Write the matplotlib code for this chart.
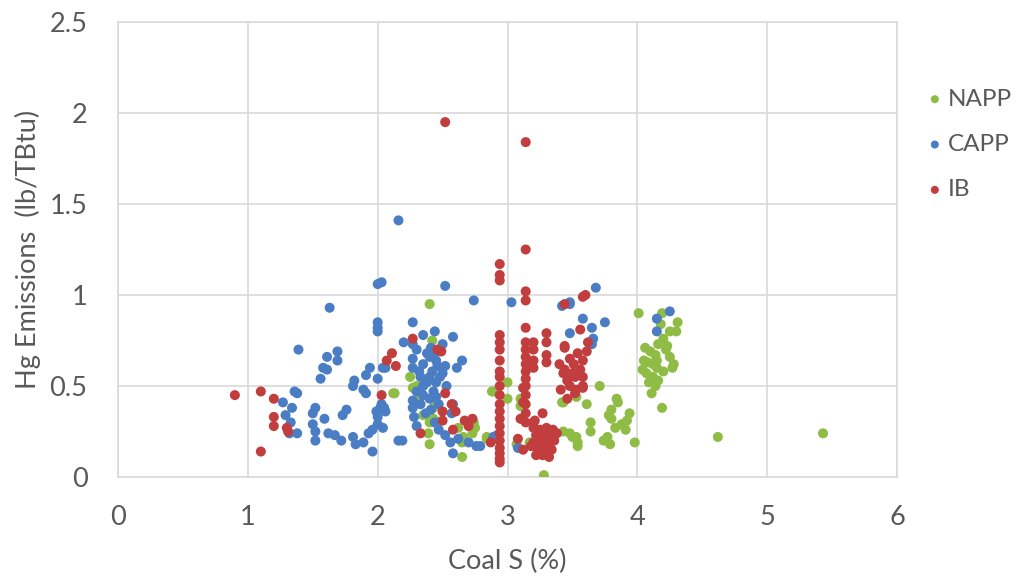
import matplotlib
matplotlib.use("Agg")
import matplotlib.pyplot as plt

# ---------------- data ----------------
ib_pts = [
    (0.90, 0.45), (1.10, 0.47), (1.20, 0.43), (1.20, 0.33), (1.20, 0.28), (1.30, 0.27), (1.31, 0.25),
    (1.10, 0.14), (2.03, 0.45), (2.07, 0.64), (2.11, 0.68), (2.14, 0.61), (2.52, 1.95), (3.14, 1.84),
    (3.14, 1.25), (2.94, 1.17), (2.94, 1.11), (2.94, 1.08), (3.14, 1.02), (3.14, 0.97), (3.60, 1.00),
    (3.44, 0.95), (2.27, 0.76), (2.49, 0.69), (2.46, 0.70),
    (2.94, 0.78), (2.94, 0.74), (2.94, 0.70), (2.94, 0.64), (2.94, 0.58), (2.94, 0.55), (2.94, 0.50),
    (2.94, 0.45), (2.94, 0.40), (2.94, 0.36), (2.94, 0.32), (2.94, 0.28), (2.94, 0.24), (2.94, 0.20),
    (2.94, 0.16), (2.94, 0.13), (2.94, 0.10), (2.94, 0.08),
    (3.14, 0.82), (3.14, 0.74), (3.14, 0.70), (3.14, 0.66), (3.14, 0.62), (3.14, 0.58), (3.14, 0.54),
    (3.14, 0.50), (3.14, 0.45), (3.14, 0.40), (3.14, 0.35), (3.14, 0.30),
    (3.20, 0.74), (3.20, 0.70), (3.20, 0.64), (3.20, 0.60),
    (3.30, 0.79), (3.30, 0.74), (3.30, 0.67), (3.30, 0.63),
    (3.27, 0.35), (3.21, 0.31), (3.12, 0.49), (3.12, 0.41), (3.10, 0.32), (3.20, 0.30), (3.08, 0.21),
    (3.12, 0.15), (2.87, 0.19),
    (3.20, 0.27), (3.25, 0.26), (3.30, 0.27), (3.35, 0.26), (3.22, 0.23), (3.28, 0.22), (3.33, 0.23),
    (3.38, 0.24), (3.20, 0.19), (3.26, 0.18), (3.31, 0.19), (3.36, 0.20), (3.23, 0.15), (3.29, 0.14),
    (3.34, 0.15), (3.27, 0.12), (3.22, 0.12), (3.32, 0.11), (3.18, 0.17), (3.25, 0.21),
    (3.44, 0.72), (3.58, 0.50), (3.44, 0.59), (3.48, 0.65), (3.51, 0.62), (3.58, 0.64), (3.61, 0.69),
    (3.62, 0.74), (3.56, 0.59), (3.52, 0.55), (3.46, 0.53), (3.43, 0.57), (3.48, 0.50), (3.53, 0.48),
    (3.41, 0.48), (3.46, 0.43), (3.52, 0.46), (3.58, 0.49), (3.44, 0.71), (3.40, 0.62), (3.54, 0.68),
    (3.58, 0.55), (3.50, 0.57), (3.58, 0.99), (3.56, 0.81),
    (2.52, 0.46), (2.57, 0.40), (2.50, 0.36), (2.50, 0.31), (2.58, 0.26), (2.33, 0.24), (2.67, 0.31),
    (2.73, 0.32), (2.60, 0.36), (2.70, 0.28),
]
capp_pts = [
    (2.16, 1.41), (2.00, 1.06), (2.03, 1.07), (2.52, 1.05), (2.74, 0.97), (3.03, 0.96), (3.48, 0.96),
    (3.68, 1.04), (4.25, 0.91), (4.15, 0.87), (4.15, 0.80), (3.75, 0.85), (3.58, 0.87), (3.48, 0.79),
    (3.65, 0.82), (3.66, 0.76), (3.65, 0.73), (3.48, 0.95), (3.42, 0.94),
    (1.63, 0.93), (2.00, 0.85), (2.00, 0.82), (2.00, 0.80), (1.39, 0.70), (1.69, 0.69), (1.61, 0.66),
    (1.69, 0.64), (1.58, 0.60), (1.61, 0.59), (1.56, 0.54), (1.94, 0.60), (1.91, 0.56), (2.00, 0.54),
    (2.06, 0.60), (1.82, 0.53), (1.81, 0.50), (1.89, 0.48), (1.91, 0.46), (1.36, 0.47), (1.38, 0.46),
    (1.27, 0.41), (1.34, 0.38), (1.29, 0.34), (1.33, 0.30), (1.32, 0.24), (1.38, 0.24), (1.52, 0.38),
    (1.50, 0.35), (1.59, 0.32), (1.50, 0.29), (1.52, 0.25), (1.52, 0.20), (1.62, 0.24), (1.67, 0.23),
    (1.72, 0.20), (1.76, 0.37), (1.73, 0.34), (1.81, 0.22), (1.83, 0.18), (1.89, 0.19), (1.93, 0.24),
    (1.96, 0.26), (2.00, 0.29), (2.00, 0.33), (1.99, 0.36), (2.03, 0.40), (2.05, 0.38), (1.96, 0.14),
    (2.16, 0.20),
    (2.27, 0.85), (2.44, 0.80), (2.58, 0.77), (2.20, 0.74), (2.27, 0.73), (2.41, 0.71), (2.65, 0.64),
    (2.61, 0.60), (2.04, 0.60), (2.27, 0.65), (2.27, 0.60), (2.35, 0.62), (2.40, 0.66), (2.46, 0.61),
    (2.52, 0.61), (2.33, 0.55), (2.40, 0.55), (2.48, 0.55), (2.53, 0.50), (2.35, 0.50), (2.43, 0.47),
    (2.35, 0.45), (2.27, 0.42), (2.27, 0.38), (2.28, 0.33), (2.41, 0.37), (2.47, 0.40), (2.58, 0.40),
    (2.57, 0.35), (2.47, 0.26), (2.56, 0.19), (2.58, 0.13), (2.70, 0.19), (2.76, 0.17), (2.19, 0.20),
    (2.02, 0.38), (2.06, 0.36), (2.04, 0.27), (2.92, 0.23), (2.89, 0.22), (2.79, 0.17), (3.08, 0.16),
    (2.30, 0.70), (2.38, 0.68), (2.45, 0.64), (2.32, 0.58), (2.42, 0.58), (2.50, 0.57), (2.38, 0.52),
    (2.45, 0.52), (2.30, 0.47), (2.40, 0.43), (2.33, 0.40), (2.45, 0.44), (2.37, 0.35), (2.30, 0.28),
    (2.44, 0.30), (2.52, 0.23), (2.62, 0.21), (2.35, 0.78), (2.50, 0.73), (2.44, 0.68),
]
napp_pts = [
    (2.40, 0.95), (4.01, 0.90), (4.62, 0.22), (5.43, 0.24), (3.28, 0.01), (2.13, 0.46),
    (4.19, 0.90), (4.31, 0.85), (4.25, 0.80), (4.30, 0.80), (4.20, 0.76), (4.16, 0.73), (4.23, 0.72),
    (4.06, 0.71), (4.10, 0.69), (4.14, 0.67), (4.05, 0.64), (4.08, 0.63), (4.15, 0.64), (4.25, 0.66),
    (4.28, 0.62), (4.27, 0.60), (4.04, 0.59), (4.07, 0.57), (4.15, 0.60), (4.12, 0.55), (4.16, 0.53),
    (4.14, 0.50), (4.11, 0.46), (4.19, 0.38), (4.22, 0.70), (4.18, 0.84), (4.12, 0.62), (4.09, 0.52),
    (4.20, 0.58),
    (3.71, 0.50), (3.61, 0.40), (3.84, 0.43), (3.85, 0.41), (3.80, 0.37), (3.78, 0.34), (3.80, 0.32),
    (3.94, 0.35), (3.92, 0.31), (3.88, 0.29), (3.83, 0.27), (3.64, 0.30), (3.64, 0.25), (3.91, 0.26),
    (3.98, 0.19), (3.74, 0.20), (3.79, 0.18), (3.77, 0.22), (3.54, 0.17), (3.53, 0.22), (3.43, 0.25),
    (3.48, 0.24), (3.43, 0.41), (3.53, 0.44), (3.50, 0.22), (3.54, 0.19),
    (2.12, 0.46), (2.30, 0.50), (2.33, 0.44), (2.42, 0.75), (2.40, 0.30), (2.39, 0.24), (2.40, 0.18),
    (2.65, 0.19), (2.65, 0.11), (2.73, 0.24), (2.75, 0.27), (2.84, 0.21), (2.88, 0.47), (3.00, 0.52),
    (3.00, 0.43), (3.10, 0.39), (3.42, 0.41), (2.43, 0.32), (2.44, 0.42), (2.66, 0.22), (2.74, 0.30),
    (2.62, 0.27), (2.46, 0.30), (2.27, 0.49), (2.43, 0.38), (2.89, 0.47), (3.10, 0.43), (2.84, 0.22),
    (2.90, 0.21), (3.07, 0.18), (3.17, 0.19), (2.25, 0.55), (2.35, 0.34),
]
series_names = ["NAPP", "CAPP", "IB"]
x_ticks = [0, 1, 2, 3, 4, 5, 6]
y_ticks = [0, 0.5, 1, 1.5, 2, 2.5]
y_tick_labels = ["0", "0.5", "1", "1.5", "2", "2.5"]
x_label = "Coal S (%)"
y_label = "Hg Emissions  (lb/TBtu)"

# ---------------- plotting ----------------
plt.rcParams['font.family'] = ['Lato', 'DejaVu Sans']
colors = {"NAPP": "#8FBC45", "CAPP": "#4A7DC4", "IB": "#C23D3D"}
txt = "#595959"
grid_c = "#D9D9D9"

fig = plt.figure(figsize=(10.28, 5.77), dpi=100)
ax = fig.add_axes([0.1148, 0.1733, 0.8726 - 0.1148, 0.9619 - 0.1733])

for name, pts in zip(series_names, [napp_pts, capp_pts, ib_pts]):
    xs = [p[0] for p in pts]
    ys = [p[1] for p in pts]
    ax.scatter(xs, ys, s=52, color=colors[name], edgecolors='none', label=name, zorder=3)

ax.set_xlim(0, 6)
ax.set_ylim(0, 2.5)
ax.set_xticks(x_ticks)
ax.set_yticks(y_ticks)
ax.set_yticklabels(y_tick_labels)
ax.grid(True, color=grid_c, linewidth=1.2, zorder=0)
for sp in ax.spines.values():
    sp.set_color(grid_c)
    sp.set_linewidth(1.2)
ax.tick_params(length=0, labelsize=19.5, labelcolor=txt)
ax.tick_params(axis='x', pad=20)
ax.tick_params(axis='y', pad=22)
ax.set_xlabel(x_label, fontsize=19.5, color=txt, labelpad=14)
ax.set_ylabel(y_label, fontsize=19.5, color=txt, labelpad=6)

leg = ax.legend(loc='upper left', bbox_to_anchor=(1.022, 0.875), frameon=False,
                fontsize=17.5, handletextpad=0.1, labelspacing=1.0, markerscale=0.8,
                handlelength=0.9, borderaxespad=0)
for t in leg.get_texts():
    t.set_color(txt)

fig.savefig("out.png", dpi=100)
